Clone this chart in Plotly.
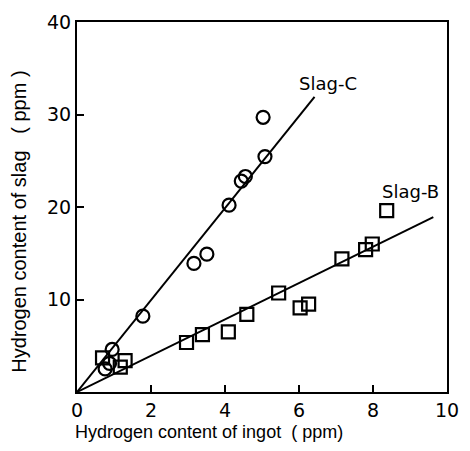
import plotly.graph_objects as go

# Slag-C (circles)
c_x = [5.03, 5.08, 4.55, 4.44, 4.11, 3.51, 3.16, 1.78, 0.95, 0.88, 0.76]
c_y = [29.7, 25.45, 23.3, 22.8, 20.2, 14.9, 13.9, 8.2, 4.6, 3.1, 2.5]
# Slag-B (squares)
b_x = [8.37, 7.98, 7.80, 7.16, 5.45, 6.26, 6.03, 4.59, 3.39, 4.09, 2.96, 1.30, 0.69, 1.17]
b_y = [19.6, 16.0, 15.4, 14.4, 10.7, 9.5, 9.1, 8.4, 6.2, 6.5, 5.35, 3.4, 3.7, 2.7]
# fitted lines
c_line_x = [0, 6.42]
c_line_y = [0, 31.9]
b_line_x = [0, 9.63]
b_line_y = [0, 18.9]

x_ticks = [0, 2, 4, 6, 8, 10]
y_ticks = [10, 20, 30, 40]

TICKFONT = "DejaVu Sans"
TEXTFONT = "Liberation Sans"

fig = go.Figure()
fig.add_trace(go.Scatter(x=c_line_x, y=c_line_y, mode="lines",
                         line=dict(color="black", width=2), showlegend=False))
fig.add_trace(go.Scatter(x=b_line_x, y=b_line_y, mode="lines",
                         line=dict(color="black", width=2), showlegend=False))
fig.add_trace(go.Scatter(x=c_x, y=c_y, mode="markers",
                         marker=dict(symbol="circle-open", size=13, color="black",
                                     line=dict(width=2.2, color="black")),
                         showlegend=False))
fig.add_trace(go.Scatter(x=b_x, y=b_y, mode="markers",
                         marker=dict(symbol="square-open", size=13, color="black",
                                     line=dict(width=2.2, color="black")),
                         showlegend=False))

fig.add_annotation(x=6.78, y=33.4, text="Slag-C", showarrow=False,
                   font=dict(family=TICKFONT, size=18, color="black"))
fig.add_annotation(x=9.0, y=21.7, text="Slag-B", showarrow=False,
                   font=dict(family=TICKFONT, size=18, color="black"))

# axis titles (placed as annotations to match their off-centre positions)
fig.add_annotation(xref="paper", yref="paper", x=0.356, y=0, yshift=-40,
                   text="Hydrogen content of ingot  ( ppm)", showarrow=False,
                   xanchor="center", yanchor="middle",
                   font=dict(family=TEXTFONT, size=18, color="black"))
fig.add_annotation(xref="paper", yref="paper", x=0, xshift=-58, y=0.46,
                   text="Hydrogen content of slag   ( ppm )", showarrow=False,
                   textangle=-90, xanchor="center", yanchor="middle",
                   font=dict(family=TEXTFONT, size=20, color="black"))

fig.update_layout(
    width=470, height=451,
    margin=dict(l=77, r=11, t=18, b=59),
    paper_bgcolor="white", plot_bgcolor="white",
    font=dict(family=TICKFONT, color="black"),
)
fig.update_xaxes(
    range=[0, 10], tickvals=x_ticks, ticktext=[str(v) for v in x_ticks],
    ticks="inside", ticklen=7, tickwidth=2, tickcolor="black",
    showline=True, linewidth=2, linecolor="black", mirror=True,
    showgrid=False, zeroline=False,
    tickfont=dict(family=TICKFONT, size=19),
)
fig.update_yaxes(
    range=[0, 40], tickvals=y_ticks, ticktext=[str(v) for v in y_ticks],
    ticks="inside", ticklen=7, tickwidth=2, tickcolor="black",
    showline=True, linewidth=2, linecolor="black", mirror=True,
    showgrid=False, zeroline=False,
    tickfont=dict(family=TICKFONT, size=19),
)

fig.write_html(
    "out.html",
    config={"displayModeBar": False},
    post_script="document.body.style.margin='0';document.body.style.overflow='hidden';",
)
